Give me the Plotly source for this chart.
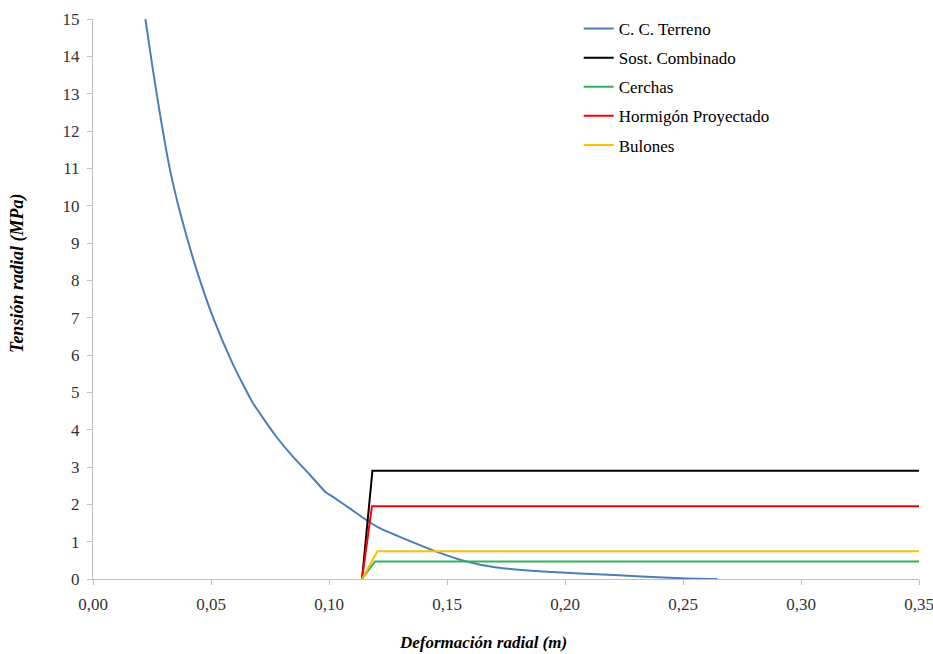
import plotly.graph_objects as go

# Ground reaction curve (C. C. Terreno)
terreno_x = [0.0222, 0.025, 0.028, 0.0325, 0.0374, 0.0438, 0.0509, 0.0593, 0.0678,
             0.0777, 0.0847, 0.0918, 0.0985, 0.1017, 0.1088, 0.1158, 0.1215, 0.1427,
             0.157, 0.171, 0.1923, 0.2206, 0.249, 0.2645]
terreno_y = [15.0, 13.8, 12.6, 11.0, 9.7, 8.3, 7.0, 5.75, 4.71,
             3.81, 3.28, 2.80, 2.33, 2.2, 1.89, 1.58, 1.36, 0.80,
             0.49, 0.31, 0.195, 0.107, 0.02, 0.0]

# Support curves
combinado_x = [0.114, 0.1184, 0.35]
combinado_y = [0.0, 2.9, 2.9]
cerchas_x = [0.114, 0.1195, 0.35]
cerchas_y = [0.0, 0.47, 0.47]
hormigon_x = [0.114, 0.1182, 0.35]
hormigon_y = [0.0, 1.95, 1.95]
bulones_x = [0.114, 0.1205, 0.35]
bulones_y = [0.0, 0.74, 0.74]

names = ["C. C. Terreno", "Sost. Combinado", "Cerchas", "Hormigón Proyectado", "Bulones"]
colors = ["#4a7ebb", "#000000", "#2fb35a", "#ff0000", "#ffc000"]
xs = [terreno_x, combinado_x, cerchas_x, hormigon_x, bulones_x]
ys = [terreno_y, combinado_y, cerchas_y, hormigon_y, bulones_y]

x_ticks = [0, 0.05, 0.10, 0.15, 0.20, 0.25, 0.30, 0.35]
y_ticks = list(range(0, 16))

FONT = "Liberation Serif, Times New Roman, serif"

fig = go.Figure()
for i, (n, c, x, y) in enumerate(zip(names, colors, xs, ys)):
    shape = "spline" if i == 0 else "linear"
    fig.add_trace(go.Scatter(x=x, y=y, mode="lines", name=n, legendgroup=f"g{i}",
                             line=dict(color=c, width=2, shape=shape, smoothing=0.5)))

axis_common = dict(showgrid=False, zeroline=False, showline=True, linecolor="#bfbfbf",
                   linewidth=1, ticks="outside", ticklen=5, tickcolor="#bfbfbf",
                   automargin=False,
                   tickfont=dict(family=FONT, size=17, color="#333333"))

fig.update_xaxes(range=[0, 0.35], tickvals=x_ticks, tickformat=".2f",
                 ticklabelstandoff=5, ticklabeloverflow="allow", **axis_common)
fig.update_yaxes(range=[0, 15], tickvals=y_ticks, ticklabelstandoff=4, **axis_common)

fig.update_layout(
    width=933, height=654,
    margin=dict(l=93, r=14, t=19, b=75, autoexpand=False),
    paper_bgcolor="white", plot_bgcolor="white",
    separators=",.",
    showlegend=True,
    legend=dict(x=0.588, y=1.0143, xanchor="left", yanchor="top",
                font=dict(family=FONT, size=17, color="#000000"),
                traceorder="grouped", tracegroupgap=4,
                bgcolor="rgba(0,0,0,0)", itemwidth=30),
    annotations=[
        dict(text="<b><i>Tensión radial (MPa)</i></b>", xref="paper", yref="paper",
             x=-0.0908, y=0.5465, xanchor="center", yanchor="middle", textangle=-90,
             showarrow=False, font=dict(family=FONT, size=18, color="#000000")),
        dict(text="<b><i>Deformación radial (m)</i></b>", xref="paper", yref="paper",
             x=0.472, y=-0.114, xanchor="center", yanchor="middle",
             showarrow=False, font=dict(family=FONT, size=17, color="#000000")),
    ],
)

fig.write_html("out.html", config={"displayModeBar": False},
               post_script="document.body.style.margin='0px';")
